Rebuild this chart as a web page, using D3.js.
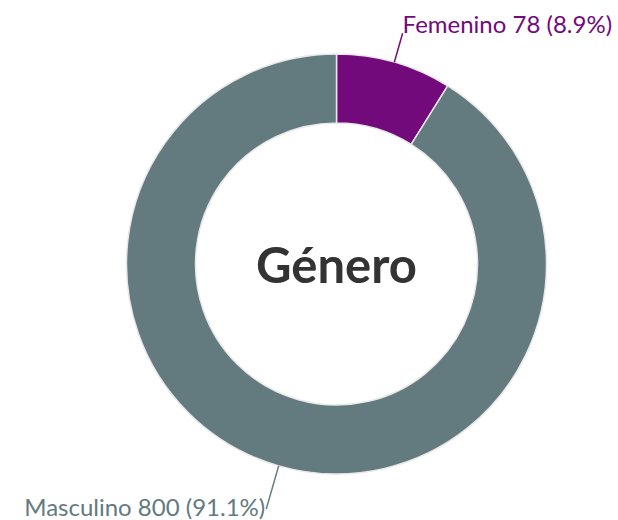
<!DOCTYPE html>
<html>
<head>
<meta charset="utf-8">
<script src="https://cdn.jsdelivr.net/npm/d3@7"></script>
<style>
  body { margin: 0; background: #fff; }
  svg { display: block; }
</style>
</head>
<body>
<div id="chart"></div>
<script>
const categories = ["Femenino", "Masculino"];
const counts = [78, 800];
const sliceColors = ["#730a7b", "#637a7f"];
const title = "Género";

const width = 618, height = 520;
const cx = 336.5, cy = 264;
const outerR = 210, innerR = 141;

const total = d3.sum(counts);
const data = categories.map((c, i) => ({ name: c, value: counts[i], color: sliceColors[i] }));

const svg = d3.select("#chart").append("svg")
  .attr("width", width).attr("height", height);

const g = svg.append("g").attr("transform", `translate(${cx},${cy})`);

const pie = d3.pie().sort(null).value(d => d.value);
const arc = d3.arc().innerRadius(innerR).outerRadius(outerR);
const arcs = pie(data);

g.selectAll("path.slice").data(arcs).enter().append("path")
  .attr("class", "slice")
  .attr("d", arc)
  .attr("fill", d => d.data.color)
  .attr("stroke", "#e8e8e8")
  .attr("stroke-width", 1.5);

// leader lines + labels
const fmt = d3.format(".1f");
arcs.forEach((d, i) => {
  const a = (d.startAngle + d.endAngle) / 2;
  const len = i === 0 ? 30 : 45;
  const x0 = Math.sin(a) * outerR, y0 = -Math.cos(a) * outerR;
  const x1 = Math.sin(a) * (outerR + len), y1 = -Math.cos(a) * (outerR + len);
  g.append("line")
    .attr("x1", x0).attr("y1", y0).attr("x2", x1).attr("y2", y1)
    .attr("stroke", d.data.color).attr("stroke-width", 1.5);
  const right = x1 >= 0;
  g.append("text")
    .attr("x", x1 + (right ? 0 : -1))
    .attr("y", y1 + (y1 < 0 ? 0 : 7))
    .attr("text-anchor", right ? "start" : "end")
    .attr("fill", d.data.color)
    .style("font-family", "Lato, sans-serif")
    .style("font-size", "24px")
    .text(`${d.data.name} ${d.data.value} (${fmt(d.data.value / total * 100)}%)`);
});

g.append("text")
  .attr("x", 0).attr("y", 19)
  .attr("text-anchor", "middle")
  .attr("fill", "#333")
  .style("font-family", "Lato, sans-serif")
  .style("font-weight", "bold")
  .style("font-size", "49px")
  .text(title);
</script>
</body>
</html>
